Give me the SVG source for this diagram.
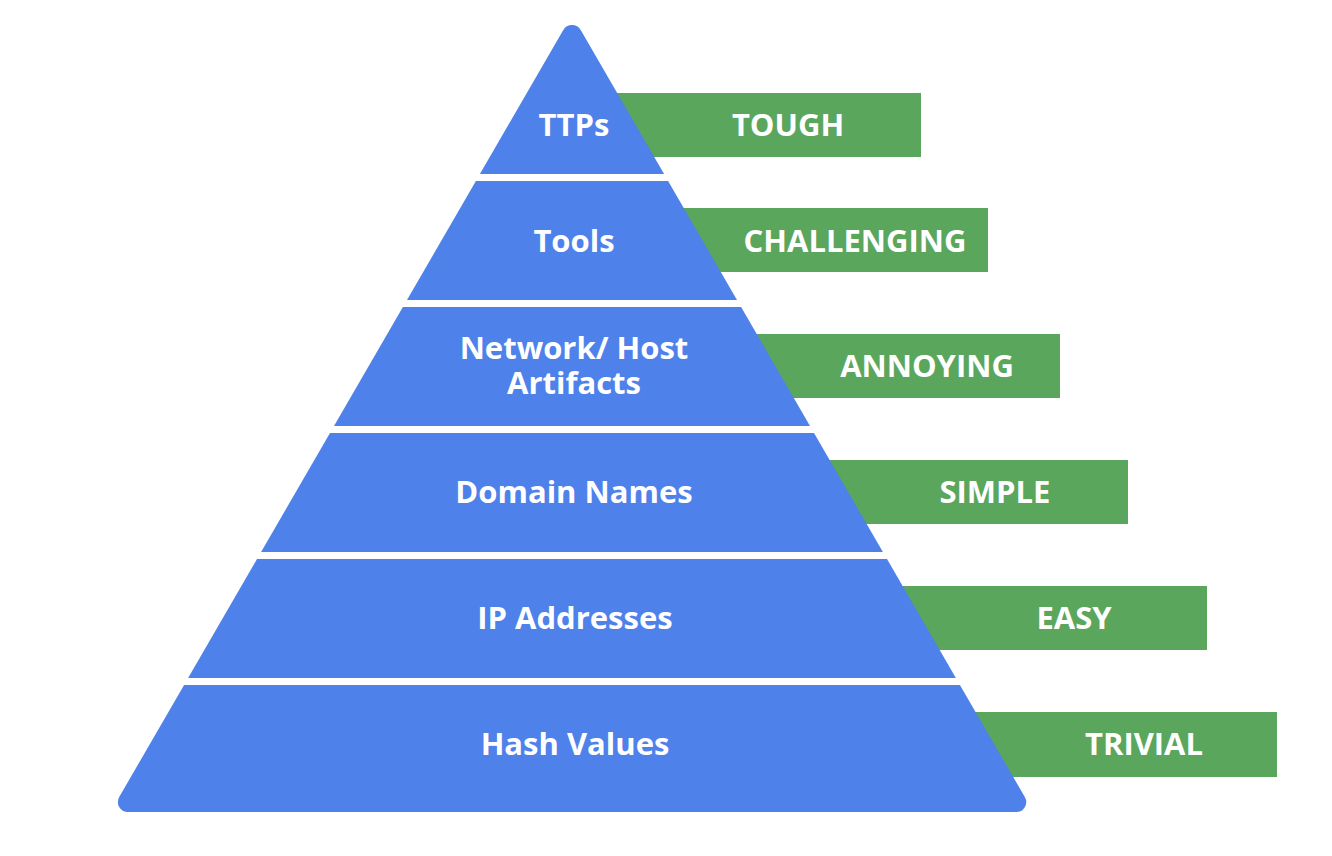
<svg xmlns="http://www.w3.org/2000/svg" width="1332" height="856" viewBox="0 0 1332 856">
<style>
.bg{fill:#ffffff}
.layer{fill:#4e81ea}
.bar{fill:#5ba65d}
.lbl{font-family:"Open Sans","Liberation Sans",sans-serif;font-weight:700;font-size:31px;fill:#ffffff;text-anchor:middle}
</style>
<rect class="bg" x="0" y="0" width="1332" height="856"/>
<g id="bars">
<g id="bar-tough"><rect class="bar" x="600" y="93" width="321" height="64"/><text class="lbl" x="788" y="136">TOUGH</text></g>
<g id="bar-challenging"><rect class="bar" x="600" y="208" width="388" height="64"/><text class="lbl" x="855" y="252">CHALLENGING</text></g>
<g id="bar-annoying"><rect class="bar" x="600" y="334" width="460" height="64"/><text class="lbl" x="927" y="377">ANNOYING</text></g>
<g id="bar-simple"><rect class="bar" x="600" y="460" width="528" height="64"/><text class="lbl" x="995" y="503">SIMPLE</text></g>
<g id="bar-easy"><rect class="bar" x="600" y="586" width="607" height="64"/><text class="lbl" x="1074" y="629">EASY</text></g>
<g id="bar-trivial"><rect class="bar" x="600" y="712" width="677" height="65"/><text class="lbl" x="1144" y="755">TRIVIAL</text></g>
</g>
<g id="pyramid">
<g id="layer-ttps"><path class="layer" d="M563.3 30 A10 10 0 0 1 580.7 30 L664.1 174 L479.9 174 Z"/><text class="lbl" x="574" y="136">TTPs</text></g>
<g id="layer-tools"><path class="layer" d="M475.9 181 L668.1 181 L737 300 L407 300 Z"/><text class="lbl" x="574" y="252">Tools</text></g>
<g id="layer-artifacts"><path class="layer" d="M402.9 307 L741.1 307 L810 426 L334 426 Z"/><text class="lbl" x="574" y="359"><tspan x="574" y="359">Network/ Host</tspan><tspan x="574" y="394">Artifacts</tspan></text></g>
<g id="layer-domains"><path class="layer" d="M330 433 L814 433 L882.9 552 L261.1 552 Z"/><text class="lbl" x="574" y="503">Domain Names</text></g>
<g id="layer-ip"><path class="layer" d="M257 559 L887 559 L955.9 678 L188.1 678 Z"/><text class="lbl" x="575" y="629">IP Addresses</text></g>
<g id="layer-hash"><path class="layer" d="M184.1 685 L959.9 685 L1024.8 797 A10 10 0 0 1 1015.2 812 L127.8 812 A10 10 0 0 1 119.2 797 Z"/><text class="lbl" x="575" y="755">Hash Values</text></g>
</g>
</svg>
